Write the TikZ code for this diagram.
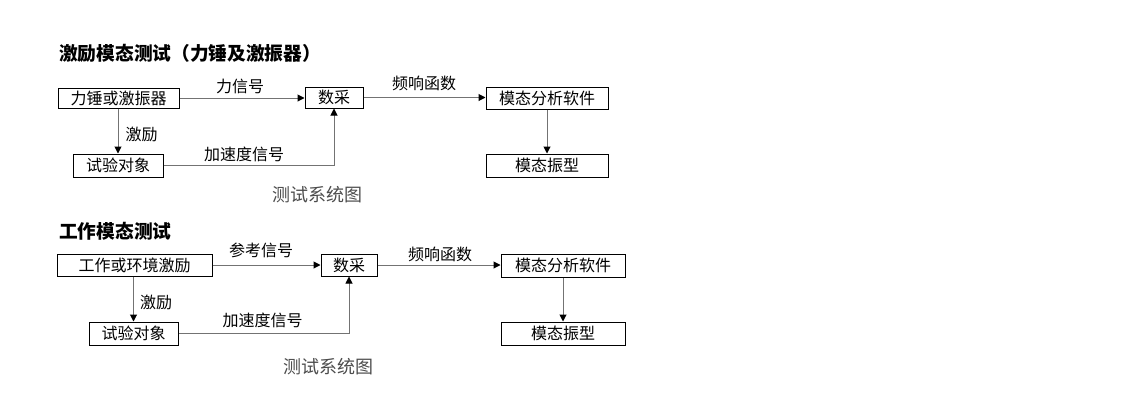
\documentclass[tikz,border=0pt]{standalone}
\usepackage{fontspec}
\newfontfamily\cjk{Noto Sans CJK SC}
\usetikzlibrary{arrows.meta}
\tikzset{
  box/.style={draw=black,line width=1pt,inner sep=0pt,font=\cjk\fontsize{16}{16}\selectfont},
  lbl/.style={inner sep=0pt,font=\cjk\fontsize{16}{16}\selectfont},
  ttl/.style={inner sep=0pt,anchor=west,font=\cjk\bfseries\fontsize{18.7}{18.7}\selectfont},
  captext/.style={inner sep=0pt,text=black!70,font=\cjk\fontsize{18}{18}\selectfont},
  conn/.style={draw=black!55,line width=1pt,-{Triangle[length=7pt,width=7pt,color=black]}}
}
\begin{document}
\begin{tikzpicture}[x=1pt,y=-1pt]
\useasboundingbox (0,0) rectangle (1140,410);
\fill[white] (0,0) rectangle (1140,410);
% ---------- top diagram ----------
\node[ttl] (t1) at (59,53) {激励模态测试（力锤及激振器）};
\node[box,minimum width=121pt,minimum height=20pt] (A) at (118.5,98) {力锤或激振器};
\node[box,minimum width=58pt,minimum height=21pt] (B) at (334,97.5) {数采};
\node[box,minimum width=122pt,minimum height=22pt] (C) at (547,98) {模态分析软件};
\node[box,minimum width=122pt,minimum height=23pt] (D) at (547,165.5) {模态振型};
\node[box,minimum width=90pt,minimum height=23pt] (E) at (118,165.5) {试验对象};
\draw[conn] (A.east) -- (A.east -| B.west);
\draw[conn] (A.south -| E.north) -- (E.north);
\draw[conn] (E.east) -- (E.east -| B.south) -- (B.south);
\draw[conn] (B.east) -- (B.east -| C.west);
\draw[conn] (C.south) -- (D.north);
\node[lbl] (l1) at (240,86) {力信号};
\node[lbl] (l2) at (141.5,134) {激励};
\node[lbl] (l3) at (244,154) {加速度信号};
\node[lbl] (l4) at (424,83.5) {频响函数};
\node[captext] (c1) at (317,194.5) {测试系统图};
% ---------- bottom diagram ----------
\node[ttl] (t2) at (59,231.5) {工作模态测试};
\node[box,minimum width=155pt,minimum height=22pt] (A2) at (134.5,265) {工作或环境激励};
\node[box,minimum width=56pt,minimum height=22pt] (B2) at (349,265) {数采};
\node[box,minimum width=124pt,minimum height=23pt] (C2) at (563,265.5) {模态分析软件};
\node[box,minimum width=124pt,minimum height=23pt] (D2) at (563,333.5) {模态振型};
\node[box,minimum width=89pt,minimum height=23pt] (E2) at (133.5,333.5) {试验对象};
\draw[conn] (A2.east) -- (A2.east -| B2.west);
\draw[conn] (A2.south -| E2.north) -- (E2.north);
\draw[conn] (E2.east) -- (E2.east -| B2.south) -- (B2.south);
\draw[conn] (B2.east) -- (B2.east -| C2.west);
\draw[conn] (C2.south) -- (D2.north);
\node[lbl] (m1) at (261,250.5) {参考信号};
\node[lbl] (m2) at (156,302) {激励};
\node[lbl] (m3) at (262.5,320.5) {加速度信号};
\node[lbl] (m4) at (440,254.5) {频响函数};
\node[captext] (c2) at (328,367) {测试系统图};
\end{tikzpicture}
\end{document}
